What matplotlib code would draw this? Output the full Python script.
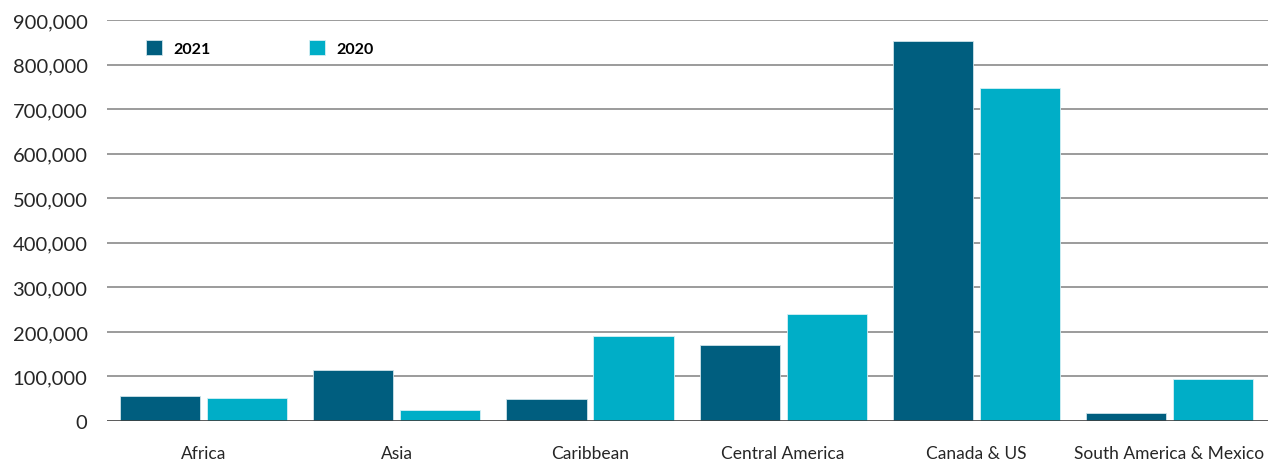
import numpy as np
import matplotlib
import matplotlib.pyplot as plt
from matplotlib.ticker import FuncFormatter

regions = ["Africa", "Asia", "Caribbean", "Central America", "Canada & US", "South America & Mexico"]
values_2021 = [55600, 115000, 48900, 170000, 852000, 17000]
values_2020 = [51800, 25500, 190000, 240000, 747000, 95000]
yticks = [0, 100000, 200000, 300000, 400000, 500000, 600000, 700000, 800000, 900000]

color_2021 = "#005e7f"
color_2020 = "#00aec7"

plt.rcParams['font.family'] = ['Lato', 'DejaVu Sans']

fig = plt.figure(figsize=(12.68, 4.6), dpi=100)
ax = fig.add_axes([0.0844, 0.0826, 0.9156, 0.8717])

x = np.arange(len(regions))
w = 0.415
off = 0.225
ax.bar(x - off, values_2021, w, color=color_2021, edgecolor="#cfe3ea", linewidth=0.6, label="2021", zorder=3)
ax.bar(x + off, values_2020, w, color=color_2020, edgecolor="#d6f0f5", linewidth=0.6, label="2020", zorder=3)

ax.set_xlim(-0.5, len(regions) - 0.5 + 0.01)
ax.set_ylim(0, 900000)
ax.set_yticks(yticks)
ax.yaxis.set_major_formatter(FuncFormatter(lambda v, p: f"{int(v):,}"))
ax.set_xticks(x)
ax.set_xticklabels(regions)
ax.tick_params(axis="y", length=0, pad=14, labelsize=14.5, labelcolor="#262626")
ax.tick_params(axis="x", length=0, pad=17, labelsize=12.5, labelcolor="#262626")

for t in yticks[1:]:
    ax.axhline(t, color="#8a8a8a", linewidth=1.2, zorder=1)
ax.axhline(0, color="#404040", linewidth=1.2, zorder=4)

for s in ax.spines.values():
    s.set_visible(False)

leg = ax.legend(loc="upper left", bbox_to_anchor=(0.021, 0.985), ncol=2, frameon=False,
                handlelength=1.0, handleheight=1.0, columnspacing=6.2, handletextpad=0.7,
                prop={"weight": "bold", "size": 11.5})

fig.savefig("out.png", dpi=100)
